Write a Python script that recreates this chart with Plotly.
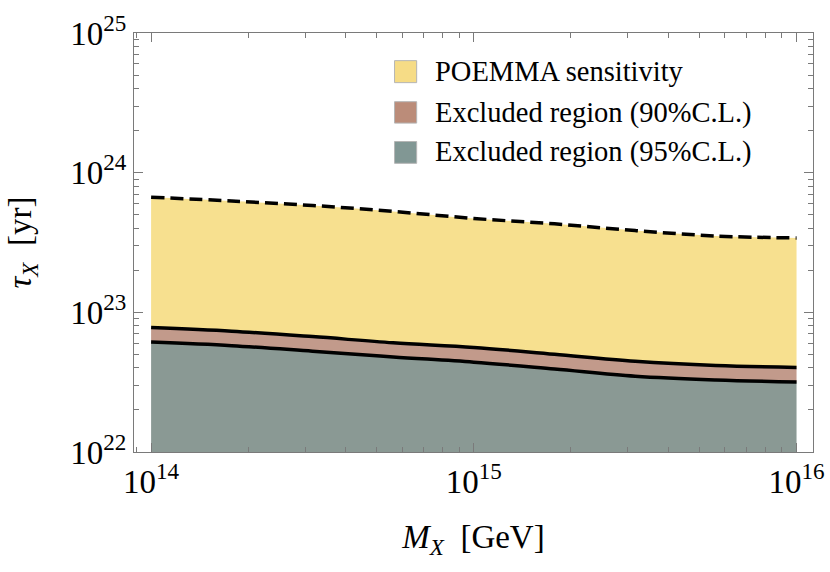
import plotly.graph_objects as go

# Data (M_X in GeV, tau in yr)
mass_gev = [1e14, 10**14.25, 10**14.5, 10**14.75, 1e15, 10**15.25, 10**15.5, 10**15.75, 1e16]
tau_poemma = [6.67e23, 6.27e23, 5.82e23, 5.28e23, 4.70e23, 4.30e23, 3.85e23, 3.52e23, 3.41e23]
tau_cl90 = [7.78e22, 7.33e22, 6.70e22, 6.05e22, 5.61e22, 5.01e22, 4.47e22, 4.17e22, 4.03e22]
tau_cl95 = [6.12e22, 5.77e22, 5.27e22, 4.79e22, 4.40e22, 3.93e22, 3.49e22, 3.28e22, 3.17e22]
tau_floor = [1e22] * len(mass_gev)

x_tickvals = [1e14, 1e15, 1e16]
x_ticktext = ["10<sup>14</sup>", "10<sup>15</sup>", "10<sup>16</sup>"]
y_tickvals = [1e22, 1e23, 1e24, 1e25]
y_ticktext = ["10<sup>22</sup>", "10<sup>23</sup>", "10<sup>24</sup>", "10<sup>25</sup>"]

legend_names = ["POEMMA sensitivity", "Excluded region (90%C.L.)", "Excluded region (95%C.L.)"]
col_yellow = "#F7E08F"
col_band = "#C29A8B"
col_gray = "#8A9994"
legend_colors = ["#F6DC86", "#BB8C79", "#819794"]

FONT = "Liberation Serif"

fig = go.Figure()
# baseline at the bottom of the axis
fig.add_trace(go.Scatter(x=mass_gev, y=tau_floor, mode="lines", line=dict(width=0),
                         showlegend=False, hoverinfo="skip"))
fig.add_trace(go.Scatter(x=mass_gev, y=tau_cl95, mode="lines", line=dict(width=0, shape="spline"),
                         fill="tonexty", fillcolor=col_gray, name=legend_names[2], showlegend=False))
fig.add_trace(go.Scatter(x=mass_gev, y=tau_cl90, mode="lines", line=dict(width=0, shape="spline"),
                         fill="tonexty", fillcolor=col_band, name=legend_names[1], showlegend=False))
fig.add_trace(go.Scatter(x=mass_gev, y=tau_poemma, mode="lines", line=dict(width=0, shape="spline"),
                         fill="tonexty", fillcolor=col_yellow, name=legend_names[0], showlegend=False))
# outlines
fig.add_trace(go.Scatter(x=mass_gev, y=tau_cl95, mode="lines",
                         line=dict(color="black", width=3.5, shape="spline"), showlegend=False))
fig.add_trace(go.Scatter(x=mass_gev, y=tau_cl90, mode="lines",
                         line=dict(color="black", width=3.5, shape="spline"), showlegend=False))
fig.add_trace(go.Scatter(x=mass_gev, y=tau_poemma, mode="lines",
                         line=dict(color="black", width=3.5, shape="spline", dash="13px,6px"),
                         showlegend=False))

axis_common = dict(
    type="log", showgrid=False, zeroline=False, showline=True, linecolor="#7a7a7a", linewidth=1,
    mirror="ticks", ticks="inside", ticklen=9, tickcolor="#7a7a7a", tickwidth=1,
    tickfont=dict(family=FONT, size=33, color="black"), automargin=False,
    minor=dict(ticks="inside", ticklen=5, tickcolor="#7a7a7a", dtick="D1", showgrid=False),
)

fig.update_xaxes(
    **axis_common,
    range=[13.947, 16.051],
    tickmode="array", tickvals=x_tickvals, ticktext=x_ticktext,
    title=dict(text="<i>M<sub>X</sub></i>  [GeV]", font=dict(family=FONT, size=33, color="black"),
               standoff=26),
)
fig.update_yaxes(
    **axis_common,
    range=[22, 25],
    tickmode="array", tickvals=y_tickvals, ticktext=y_ticktext,
    title=dict(text="<i>τ<sub>X</sub></i>  [yr]", font=dict(family=FONT, size=33, color="black"),
               standoff=28),
)

# legend drawn inside the frame: swatches + labels
sw_x0, sw_x1 = 0.3837, 0.4163
sw_rows = [(0.8815, 0.934), (0.785, 0.836), (0.689, 0.741)]
txt_y = [0.908, 0.810, 0.715]
for name, col, (y0, y1), ty in zip(legend_names, legend_colors, sw_rows, txt_y):
    fig.add_shape(type="rect", xref="x domain", yref="y domain", x0=sw_x0, x1=sw_x1, y0=y0, y1=y1,
                  fillcolor=col, line=dict(color="#b5b5b5", width=1))
    fig.add_annotation(xref="x domain", yref="y domain", x=0.4404, y=ty, xanchor="left",
                       yanchor="middle", text=name, showarrow=False,
                       font=dict(family=FONT, size=28.5, color="black"))

fig.update_layout(
    width=830, height=572,
    margin=dict(l=134, r=17, t=33, b=120),
    paper_bgcolor="white", plot_bgcolor="white",
    showlegend=False,
)

fig.write_html("out.html", post_script="document.body.style.margin='0';",
               config={"displayModeBar": False})
